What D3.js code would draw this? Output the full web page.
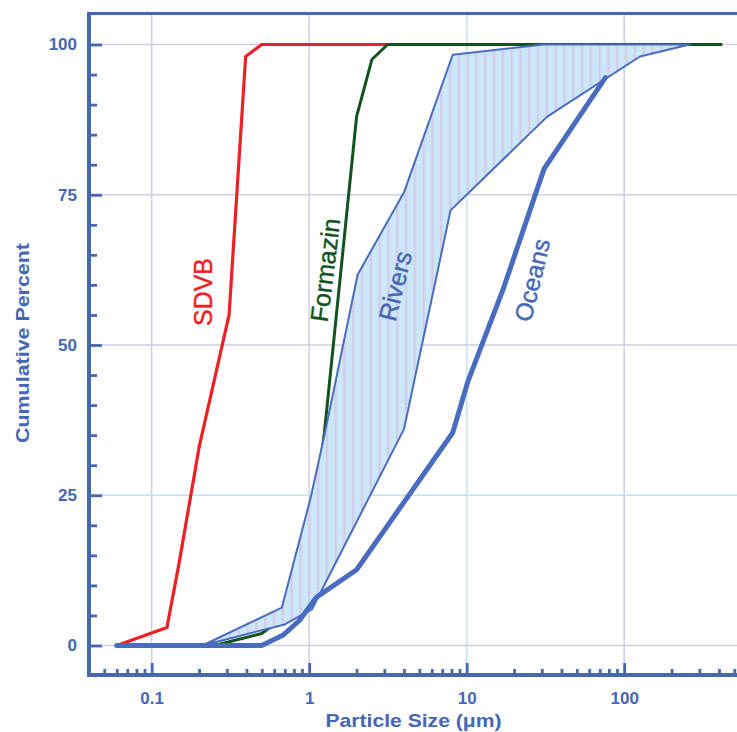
<!DOCTYPE html>
<html><head><meta charset="utf-8">
<script src="https://cdn.jsdelivr.net/npm/d3@7"></script>
<style>body{margin:0;background:#fff} svg{display:block}</style>
</head><body><svg id="c" width="737" height="732"></svg>
<script>
// ---- data ----
const sdvbX = [0.06, 0.125, 0.15, 0.2, 0.31, 0.395, 0.5, 3.15];
const sdvbY = [0, 3, 14, 33, 55, 98, 100, 100];
const formazinX = [0.25, 0.5, 0.8, 1.05, 1.25, 2, 2.5, 3.15, 420];
const formazinY = [0, 2, 6, 20, 35.5, 88, 97.5, 100, 100];
const riversUpperX = [0.21, 0.67, 1.02, 1.25, 2.03, 4, 8.15, 31, 260];
const riversUpperY = [0, 6.3, 24.5, 35, 61.7, 75.4, 98.3, 100, 100];
const riversLowerX = [0.21, 0.7, 1.04, 4, 7.9, 32.5, 126, 260];
const riversLowerY = [0, 3.5, 6, 36, 72.4, 88, 98, 100];
const oceansX = [0.06, 0.5, 0.68, 0.87, 1.11, 2, 8.15, 10.2, 17, 31, 76];
const oceansY = [0, 0, 1.7, 4.2, 8, 12.6, 35.4, 44, 59.2, 79.3, 94.5];
const yTickVals = [0, 25, 50, 75, 100];
const yTickLabels = ["0", "25", "50", "75", "100"];
const xTickVals = [0.1, 1, 10, 100];
const xTickLabels = ["0.1", "1", "10", "100"];
const xTitle = "Particle Size (\u03bcm)";
const yTitle = "Cumulative Percent";

const BLUE = "#4667b6";
const LINEBLUE = "#4a6cc0";
const svg = d3.select("#c");
const pLeft = 89, pBottom = 675, pTop = 13.5, pRight = 737;

const x = d3.scaleLog().domain([0.04, 1000]).range([pLeft, pLeft + 157.5 * Math.log10(25000)]);
const y = d3.scaleLinear().domain([0, 100]).range([645.5, 44.5]);

const zip = (xs, ys) => xs.map((v, i) => [v, ys[i]]);
const line = d3.line().x(d => x(d[0])).y(d => y(d[1]));

// pattern for the rivers band
const defs = svg.append("defs");
const pat = defs.append("pattern").attr("id", "hatch").attr("patternUnits", "userSpaceOnUse")
  .attr("width", 8.8).attr("height", 4);
pat.append("rect").attr("width", 8.8).attr("height", 4).attr("fill", "#cbe8f8");
pat.append("rect").attr("x", 0).attr("width", 2.4).attr("height", 4).attr("fill", "#d2c9e8");
pat.append("rect").attr("x", 0).attr("y", 1.5).attr("width", 2.4).attr("height", 1).attr("fill", "#dcd5ef");

// gridlines
const gridColsX = ["#cdcdeb", "#cdcdeb", "#c2e3f6", "#cdcdeb"];
svg.append("g").selectAll("line").data(xTickVals).join("line")
  .attr("x1", d => x(d)).attr("x2", d => x(d)).attr("y1", pTop).attr("y2", pBottom)
  .attr("stroke", (d, i) => gridColsX[i]).attr("stroke-width", 1.5);
const gridColsY = ["#cdcdeb", "#c2e3f6", "#cdcdeb", "#cdcdeb", "#cdcdeb"];
svg.append("g").selectAll("line").data(yTickVals).join("line")
  .attr("x1", pLeft).attr("x2", pRight).attr("y1", d => y(d)).attr("y2", d => y(d))
  .attr("stroke", (d, i) => gridColsY[i]).attr("stroke-width", 1.5);

// curves
svg.append("path").attr("d", line(zip(sdvbX, sdvbY))).attr("fill", "none")
  .attr("stroke", "#ee2026").attr("stroke-width", 3.2).attr("stroke-linejoin", "round");
svg.append("path").attr("d", line(zip(formazinX, formazinY))).attr("fill", "none")
  .attr("stroke", "#11521f").attr("stroke-width", 3).attr("stroke-linejoin", "round");
const band = zip(riversUpperX, riversUpperY).concat(zip(riversLowerX, riversLowerY).reverse());
svg.append("path").attr("d", line(band) + "Z").attr("fill", "url(#hatch)")
  .attr("stroke", LINEBLUE).attr("stroke-width", 2).attr("stroke-linejoin", "round");
svg.append("path").attr("d", line(zip(oceansX, oceansY))).attr("fill", "none")
  .attr("stroke", LINEBLUE).attr("stroke-width", 5).attr("stroke-linejoin", "round").attr("stroke-linecap", "round");

// axes
const minorX = [];
[0.01, 0.1, 1, 10, 100].forEach(d => { for (let k = 2; k <= 9; k++) { const v = d * k; if (v > 0.045 && v < 1000) minorX.push(v); } });
const gxMinor = svg.append("g").attr("transform", `translate(0,${pBottom})`)
  .call(d3.axisBottom(x).tickValues(minorX).tickSize(-6).tickFormat(""));
const gxMajor = svg.append("g").attr("transform", `translate(0,${pBottom})`)
  .call(d3.axisBottom(x).tickValues(xTickVals).tickSize(-12).tickPadding(17)
    .tickFormat((d, i) => xTickLabels[i]));
const minorY = d3.range(5, 100, 5).filter(v => v % 25 !== 0);
const gyMinor = svg.append("g").attr("transform", `translate(${pLeft},0)`)
  .call(d3.axisLeft(y).tickValues(minorY).tickSize(-8).tickFormat(""));
const gyMajor = svg.append("g").attr("transform", `translate(${pLeft},0)`)
  .call(d3.axisLeft(y).tickValues(yTickVals).tickSize(-13).tickPadding(12)
    .tickFormat((d, i) => yTickLabels[i]));
[gxMinor, gxMajor, gyMinor, gyMajor].forEach(g => {
  g.select(".domain").remove();
  g.selectAll(".tick line").attr("stroke", BLUE).attr("stroke-width", 2.8);
  g.selectAll(".tick text").attr("fill", BLUE).attr("font-family", "Liberation Sans, Arial, sans-serif")
    .attr("font-weight", "bold").attr("font-size", 17);
});

// axis frame
svg.append("line").attr("x1", pLeft).attr("x2", pRight).attr("y1", pTop).attr("y2", pTop)
  .attr("stroke", BLUE).attr("stroke-width", 2.8);
svg.append("line").attr("x1", pLeft).attr("x2", pLeft).attr("y1", pTop - 1.4).attr("y2", pBottom + 2)
  .attr("stroke", BLUE).attr("stroke-width", 4);
svg.append("line").attr("x1", pLeft - 2).attr("x2", pRight).attr("y1", pBottom).attr("y2", pBottom)
  .attr("stroke", BLUE).attr("stroke-width", 4);

// titles
const FONT = "Liberation Sans, Arial, Helvetica, sans-serif";
svg.append("text").attr("x", 413.5).attr("y", 727).attr("text-anchor", "middle")
  .attr("font-family", FONT).attr("font-weight", "bold").attr("font-size", 18.5)
  .attr("fill", BLUE).attr("textLength", 176).attr("lengthAdjust", "spacingAndGlyphs").text(xTitle);
svg.append("text").attr("transform", "translate(29,343) rotate(-90)").attr("text-anchor", "middle")
  .attr("font-family", FONT).attr("font-weight", "bold").attr("font-size", 18.5)
  .attr("fill", BLUE).attr("textLength", 200).attr("lengthAdjust", "spacingAndGlyphs").text(yTitle);

// series labels
const labels = [
  { t: "SDVB", x: 203, y: 292, r: -90, c: "#ee2026", s: 25 },
  { t: "Formazin", x: 325, y: 270, r: -83, c: "#11521f", s: 25 },
  { t: "Rivers", x: 395, y: 286, r: -76, c: BLUE, s: 25 },
  { t: "Oceans", x: 532, y: 280, r: -76.5, c: BLUE, s: 24.5 }
];
svg.append("g").selectAll("text").data(labels).join("text")
  .attr("transform", d => `translate(${d.x},${d.y}) rotate(${d.r})`)
  .attr("text-anchor", "middle").attr("dy", "0.36em")
  .attr("font-family", FONT).attr("font-size", d => d.s).attr("fill", d => d.c)
  .attr("stroke", d => d.c).attr("stroke-width", 0.4)
  .text(d => d.t);
</script></body></html>
